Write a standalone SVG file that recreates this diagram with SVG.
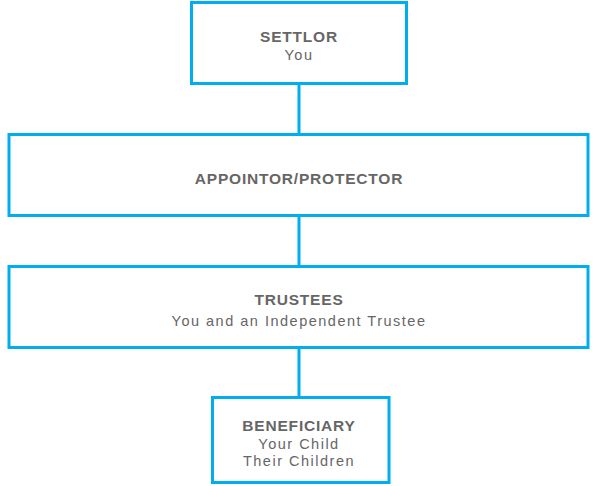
<svg xmlns="http://www.w3.org/2000/svg" width="598" height="486" viewBox="0 0 598 486">
<style>
.box{fill:#fff;stroke:#00adef;stroke-width:3}
.con{stroke:#00adef;stroke-width:3;fill:none}
.t{font-family:"Liberation Sans",Arial,sans-serif;fill:#666;text-anchor:middle}
.b{font-weight:bold;font-size:15.5px;letter-spacing:0.8px}
.s{font-size:14.5px;letter-spacing:1.5px}
</style>
<rect width="598" height="486" fill="#fff"/>
<g id="connectors">
<line class="con" x1="299" y1="85" x2="299" y2="133"/>
<line class="con" x1="299" y1="217" x2="299" y2="265"/>
<line class="con" x1="299" y1="349" x2="299" y2="396"/>
</g>
<g id="settlor">
<rect class="box" x="191.5" y="2.5" width="215" height="81"/>
<text class="t b" x="299" y="42">SETTLOR</text>
<text class="t s" x="299" y="60">You</text>
</g>
<g id="appointor">
<rect class="box" x="9" y="134.5" width="579" height="81"/>
<text class="t b" x="299" y="184">APPOINTOR/PROTECTOR</text>
</g>
<g id="trustees">
<rect class="box" x="9" y="266.5" width="579" height="81"/>
<text class="t b" x="299" y="305">TRUSTEES</text>
<text class="t s" x="299" y="326">You and an Independent Trustee</text>
</g>
<g id="beneficiary">
<rect class="box" x="212.5" y="397.5" width="176.5" height="85"/>
<text class="t b" x="299" y="431">BENEFICIARY</text>
<text class="t s" x="299" y="449">Your Child</text>
<text class="t s" x="299" y="466">Their Children</text>
</g>
</svg>
